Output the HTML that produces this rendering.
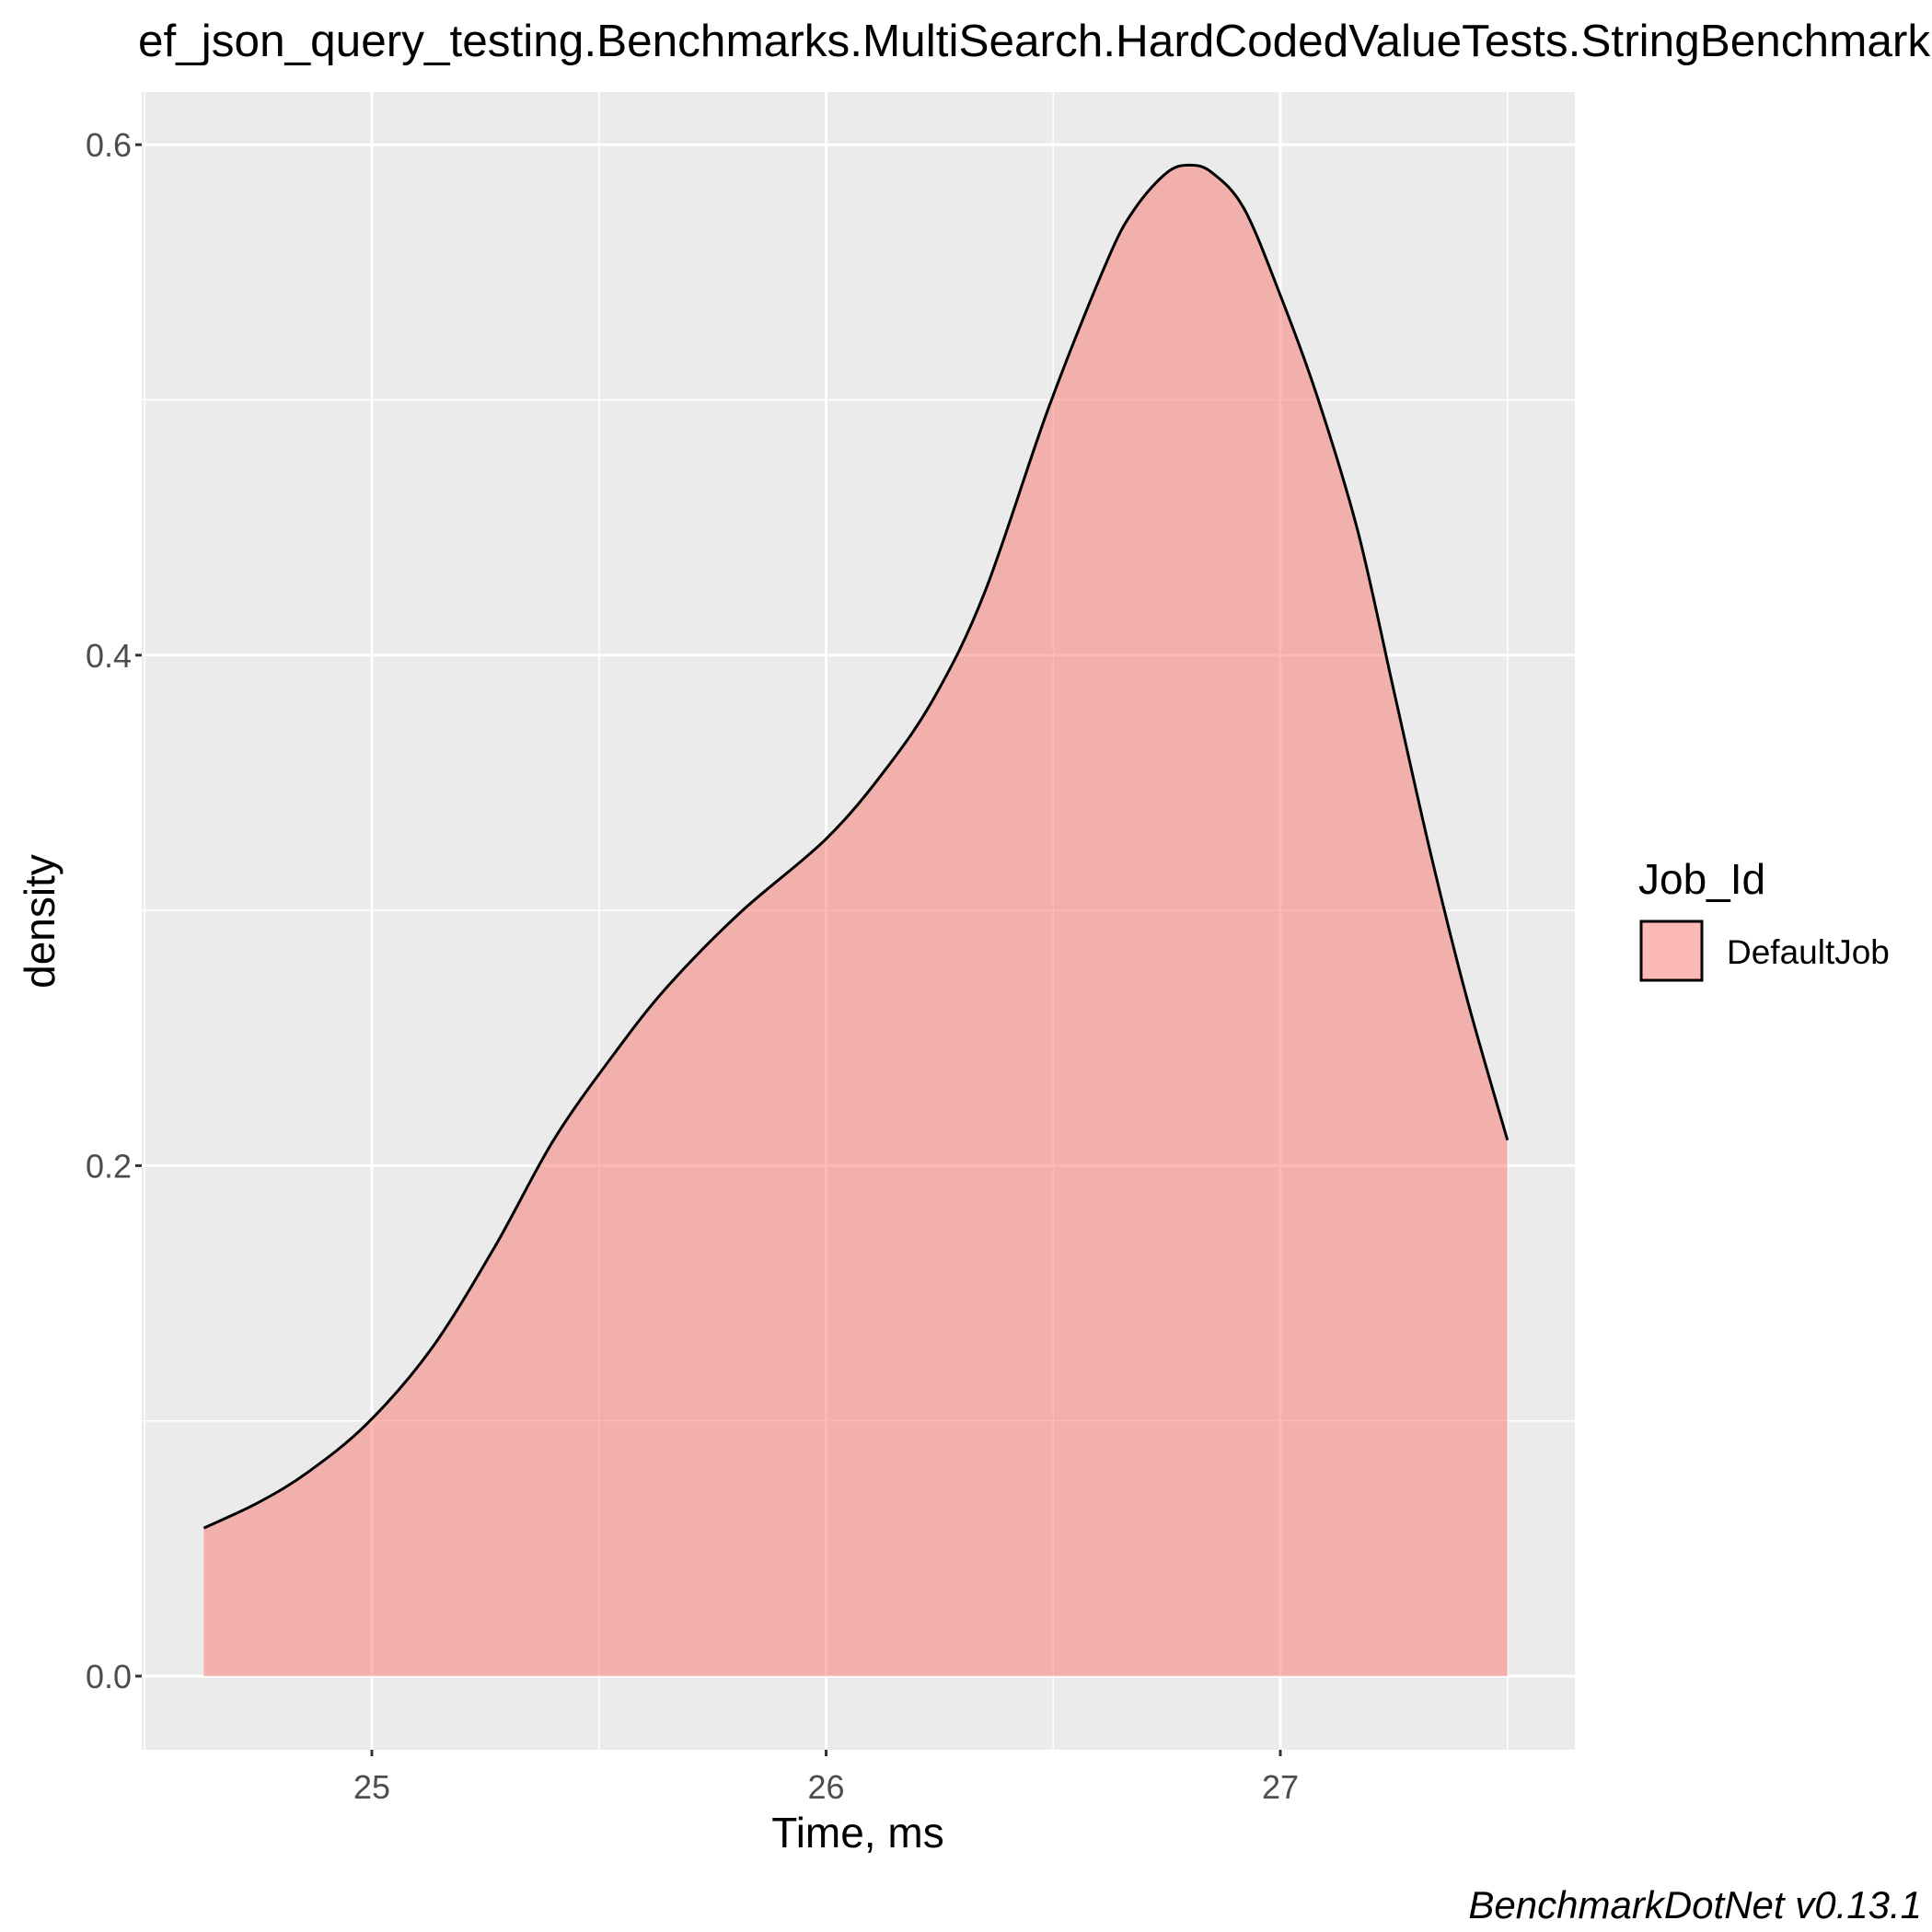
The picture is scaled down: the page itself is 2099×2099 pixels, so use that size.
<!DOCTYPE html>
<html><head><meta charset="utf-8">
<style>html,body{margin:0;padding:0;background:#fff}svg{display:block}</style>
</head><body>
<svg id="chart" width="2099" height="2099" xmlns="http://www.w3.org/2000/svg" font-family="Liberation Sans, Arial, sans-serif">
<rect x="0" y="0" width="2099" height="2099" fill="#fff"/>
<g id="plot"></g>
</svg>
<script>
const times = [24.63,24.75,24.86,24.99,25.13,25.27,25.40,25.53,25.65,25.81,26.00,26.13,26.24,26.35,26.49,26.62,26.68,26.75,26.80,26.85,26.92,27.00,27.08,27.17,27.25,27.33,27.41,27.50];
const densities = [0.058,0.068,0.080,0.099,0.128,0.168,0.210,0.243,0.270,0.299,0.328,0.355,0.384,0.425,0.497,0.555,0.575,0.589,0.592,0.589,0.575,0.541,0.502,0.449,0.386,0.323,0.266,0.210];
const xTicks = [25,26,27];
const xTickLabels = ["25","26","27"];
const xMinor = [24.5,25.5,26.5,27.5];
const yTicks = [0,0.2,0.4,0.6];
const yTickLabels = ["0.0","0.2","0.4","0.6"];
const yMinor = [0.1,0.3,0.5];

const NS="http://www.w3.org/2000/svg";
const P={l:154,r:1711,t:100,b:1901};
function X(v){return 404+(v-25)*493.5;}
function Y(d){return 1821-d*2773;}
const g=document.getElementById('plot');
function mk(tag,attrs,parent){const e=document.createElementNS(NS,tag);for(const k in attrs)e.setAttribute(k,attrs[k]);(parent||g).appendChild(e);return e;}

const panel=mk('rect',{x:P.l,y:P.t,width:P.r-P.l,height:P.b-P.t,fill:'#EBEBEB'});


xMinor.forEach(v=>{const l=mk('line',{x1:X(v),x2:X(v),y1:P.t,y2:P.b,stroke:'#fff','stroke-width':1.5});

});
yMinor.forEach(v=>{const l=mk('line',{x1:P.l,x2:P.r,y1:Y(v),y2:Y(v),stroke:'#fff','stroke-width':1.5});

});
xTicks.forEach((v,i)=>{const l=mk('line',{x1:X(v),x2:X(v),y1:P.t,y2:P.b,stroke:'#fff','stroke-width':3});


const t=mk('line',{x1:X(v),x2:X(v),y1:P.b,y2:P.b+7,stroke:'#333','stroke-width':3});


const tx=mk('text',{x:X(v),y:1954,'text-anchor':'middle','font-size':36,fill:'#4D4D4D'});tx.textContent=xTickLabels[i];

});
yTicks.forEach((v,i)=>{const l=mk('line',{x1:P.l,x2:P.r,y1:Y(v),y2:Y(v),stroke:'#fff','stroke-width':3});


const t=mk('line',{x1:P.l-7,x2:P.l,y1:Y(v),y2:Y(v),stroke:'#333','stroke-width':3});


const tx=mk('text',{x:P.l-11,y:Y(v)+13,'text-anchor':'end','font-size':36,fill:'#4D4D4D'});tx.textContent=yTickLabels[i];

});

const pts=times.map((t,i)=>[X(t),Y(densities[i])]);
let d='M'+pts[0][0]+','+pts[0][1];
for(let i=0;i<pts.length-1;i++){const p0=pts[Math.max(0,i-1)],p1=pts[i],p2=pts[i+1],p3=pts[Math.min(pts.length-1,i+2)];
d+=' C'+(p1[0]+(p2[0]-p0[0])/6)+','+(p1[1]+(p2[1]-p0[1])/6)+' '+(p2[0]-(p3[0]-p1[0])/6)+','+(p2[1]-(p3[1]-p1[1])/6)+' '+p2[0]+','+p2[1];}
const area=mk('path',{d:d+' L'+pts[pts.length-1][0]+','+Y(0)+' L'+pts[0][0]+','+Y(0)+' Z',fill:'#F8766D','fill-opacity':0.5});


const line=mk('path',{d:d,fill:'none',stroke:'#000','stroke-width':3});



function txt(s,a,name){const e=mk('text',a);e.textContent=s;return e;}
txt('ef_json_query_testing.Benchmarks.MultiSearch.HardCodedValueTests.StringBenchmark',{x:150,y:61,'font-size':49.5,fill:'#000'},'chart-title');
txt('Time, ms',{x:932,y:2007,'text-anchor':'middle','font-size':46,fill:'#000'},'x-axis-title');
txt('density',{x:0,y:0,'text-anchor':'middle','font-size':46,fill:'#000',transform:'translate(59,1001) rotate(-90)'},'y-axis-title');
txt('Job_Id',{x:1780,y:971,'font-size':46,fill:'#000'},'legend-title');
const key=mk('rect',{x:1783,y:1001,width:66,height:64,fill:'#F8766D','fill-opacity':0.5,stroke:'#000','stroke-width':3});


txt('DefaultJob',{x:1876,y:1047,'font-size':37,fill:'#000'},'legend-label-defaultjob');
txt('BenchmarkDotNet v0.13.1',{x:2088,y:2084,'text-anchor':'end','font-size':42,'font-style':'italic',fill:'#000'},'caption');
</script>
</body></html>
